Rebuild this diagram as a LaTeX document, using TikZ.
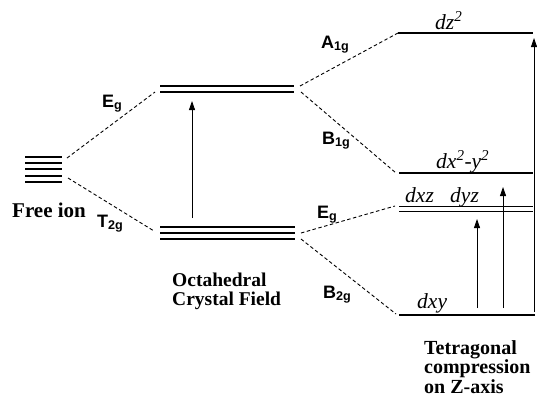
\documentclass[tikz,border=0pt]{standalone}
\usepackage{fontspec}
\setmainfont{Liberation Serif}
\setsansfont{Liberation Sans}
\usetikzlibrary{arrows.meta}

\newcommand{\term}[2]{#1\textsubscript{#2}}

\tikzset{
  level/.style={line width=1.1pt},
  split/.style={line width=0.9pt, dash pattern=on 3.5pt off 2.5pt},
  trans/.style={-{Triangle[length=9pt,width=6pt]}, line width=0.8pt},
  sym/.style={font=\fontsize{18}{18}\selectfont\sffamily\bfseries, inner sep=0pt, anchor=base west},
  orb/.style={font=\fontsize{21.5}{21.5}\selectfont\itshape, inner sep=0pt, anchor=base west},
  caption/.style={font=\fontsize{19.5}{18.5}\selectfont\bfseries, inner sep=0pt, align=left, anchor=base west}
}

\begin{document}
\begin{tikzpicture}[x=1pt, y=-1pt]
    \useasboundingbox (0,0) rectangle (537,408);

    % free ion
    \foreach \y in {157,163,169,176,182}
        \draw[level] (25,\y) -- (62,\y);
    \coordinate (fi-up) at (67,158);
    \coordinate (fi-dn) at (68,178);
    \node[caption, font=\fontsize{21}{21}\selectfont\bfseries] (free) at (12,217) {Free ion};

    % octahedral field
    \draw[level] (160,86) -- (294,86);
    \draw[level] (160,92) -- (294,92);
    \foreach \y in {227,233,239}
        \draw[level] (160,\y) -- (295,\y);
    \coordinate (oh-eg-l) at (155,92);
    \coordinate (oh-eg-r1) at (300,86);
    \coordinate (oh-eg-r2) at (301,92);
    \coordinate (oh-t-l) at (154,231);
    \coordinate (oh-t-r1) at (301,233);
    \coordinate (oh-t-r2) at (301,239);
    \coordinate (oh-lo) at (192,218);
    \coordinate (oh-hi) at (192,101);
    \node[caption] (octa) at (172,305) {Octahedral\\Crystal Field};

    % tetragonal compression
    \draw[level] (398,33) -- (533,33);
    \draw[level] (399,173) -- (533,173);
    \draw[level] (399,206.5) -- (533,206.5);
    \draw[level] (399,211.5) -- (533,211.5);
    \draw[level] (399,315) -- (535,315);
    \coordinate (a1g) at (398,33);
    \coordinate (b1g) at (396,173);
    \coordinate (eg) at (395,206);
    \coordinate (b2g) at (396,314);
    \coordinate (t1-lo) at (477,308);
    \coordinate (t1-hi) at (477,219);
    \coordinate (t2-lo) at (503,308);
    \coordinate (t2-hi) at (503,187);
    \coordinate (t3-lo) at (534,312);
    \coordinate (t3-hi) at (534,38);
    \node[caption, font=\fontsize{20}{18}\selectfont\bfseries] (tetra) at (424,393) {Tetragonal\\compression\\on Z-axis};

    % orbital labels
    \node[orb] (dz2) at (435,29) {dz\textsuperscript{2}};
    \node[orb] (dx2y2) at (436,168) {dx\textsuperscript{2}-y\textsuperscript{2}};
    \node[orb] (dxz) at (405,202) {dxz};
    \node[orb] (dyz) at (450,202) {dyz};
    \node[orb] (dxy) at (417,308) {dxy};

    % symmetry labels
    \node[sym] (l-eg) at (102,107) {\term{E}{g}};
    \node[sym] (l-t2g) at (97,227) {\term{T}{2g}};
    \node[sym] (l-a1g) at (321,48) {\term{A}{1g}};
    \node[sym] (l-b1g) at (322,144) {\term{B}{1g}};
    \node[sym] (l-eg2) at (317,218) {\term{E}{g}};
    \node[sym] (l-b2g) at (323,298) {\term{B}{2g}};

    % splitting
    \draw[split] (fi-up) -- (oh-eg-l);
    \draw[split] (fi-dn) -- (oh-t-l);
    \draw[split] (oh-eg-r1) -- (a1g);
    \draw[split] (oh-eg-r2) -- (b1g);
    \draw[split] (oh-t-r1) -- (eg);
    \draw[split] (oh-t-r2) -- (b2g);

    % transitions
    \draw[trans] (oh-lo) -- (oh-hi);
    \draw[trans] (t1-lo) -- (t1-hi);
    \draw[trans] (t2-lo) -- (t2-hi);
    \draw[trans] (t3-lo) -- (t3-hi);
\end{tikzpicture}
\end{document}
